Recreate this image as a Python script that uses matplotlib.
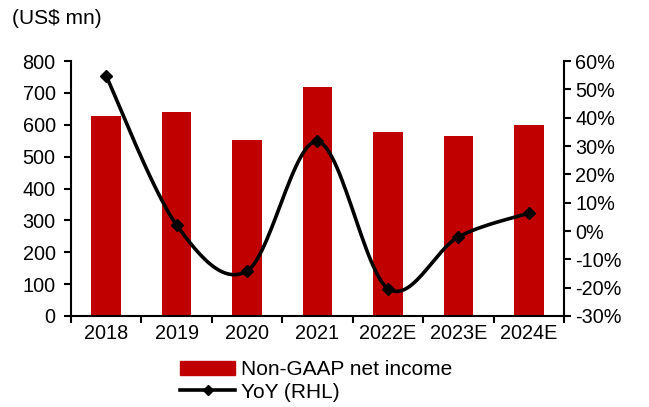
import numpy as np
import matplotlib
matplotlib.use("Agg")
import matplotlib.pyplot as plt
from matplotlib.lines import Line2D
from matplotlib.patches import Patch

plt.rcParams['font.family'] = ['Liberation Sans', 'DejaVu Sans']

years = ['2018', '2019', '2020', '2021', '2022E', '2023E', '2024E']
net_income = [627, 641, 552, 720, 576, 564, 599]
yoy = [54.7, 2.1, -14.1, 31.6, -20.3, -2.1, 6.3]

RED = '#C00000'
FS = 14.3    # tick labels
FS_TXT = 15  # title + legend


def smooth(xs, ys, n=30):
    # Excel style smoothed line: Catmull-Rom segments through the points
    xs = np.asarray(xs, float)
    ys = np.asarray(ys, float)
    px = np.concatenate([[xs[0]], xs, [xs[-1]]])
    py = np.concatenate([[ys[0]], ys, [ys[-1]]])
    outx, outy = [], []
    t = np.linspace(0, 1, n)
    for i in range(1, len(px) - 2):
        p0x, p1x, p2x, p3x = px[i - 1], px[i], px[i + 1], px[i + 2]
        p0y, p1y, p2y, p3y = py[i - 1], py[i], py[i + 1], py[i + 2]
        c1x, c1y = p1x + (p2x - p0x) / 6, p1y + (p2y - p0y) / 6
        c2x, c2y = p2x - (p3x - p1x) / 6, p2y - (p3y - p1y) / 6
        b = [(1 - t) ** 3, 3 * (1 - t) ** 2 * t, 3 * (1 - t) * t ** 2, t ** 3]
        outx.extend(b[0] * p1x + b[1] * c1x + b[2] * c2x + b[3] * p2x)
        outy.extend(b[0] * p1y + b[1] * c1y + b[2] * c2y + b[3] * p2y)
    return np.array(outx), np.array(outy)


fig = plt.figure(figsize=(6.49, 4.07), dpi=100)
ax = fig.add_axes([0.1094, 0.2236, 0.7596, 0.6264])
x = np.arange(len(years))
ax.bar(x, net_income, width=0.42, color=RED, zorder=2)
ax.set_xlim(-0.5, len(years) - 0.5)
ax.set_ylim(0, 800)
ax.set_yticks(np.arange(0, 801, 100))
ax.set_xticks(x)
ax.set_xticklabels(years)
ax.set_xticks(np.arange(-0.5, len(years), 1), minor=True)
ax.tick_params(axis='x', which='major', length=0, pad=6, labelsize=FS)
ax.tick_params(axis='x', which='minor', length=5, width=1.5, direction='out')
ax.tick_params(axis='y', length=5, width=1.5, labelsize=FS, pad=6)
for s in ['top', 'right']:
    ax.spines[s].set_visible(False)
for s in ['left', 'bottom']:
    ax.spines[s].set_linewidth(1.5)

ax2 = ax.twinx()
ax2.set_ylim(-30, 60)
ax2.set_yticks(np.arange(-30, 61, 10))
ax2.set_yticklabels([f'{v}%' for v in range(-30, 61, 10)])
ax2.tick_params(axis='y', length=5, width=1.5, labelsize=FS, pad=3)
for s in ['top', 'left', 'bottom']:
    ax2.spines[s].set_visible(False)
ax2.spines['right'].set_linewidth(1.5)

sx, sy = smooth(x, yoy)
ax2.plot(sx, sy, color='black', lw=2.6, zorder=3)
ax2.plot(x, yoy, linestyle='none', marker='D', color='black', markersize=6.5, zorder=4)

fig.text(0.018, 0.955, '(US$ mn)', fontsize=FS_TXT, va='center', ha='left')

handles = [Patch(color=RED),
           Line2D([0], [0], color='black', lw=2.6, marker='D', markersize=5)]
fig.legend(handles, ['Non-GAAP net income', 'YoY (RHL)'], loc='upper left',
           bbox_to_anchor=(0.262, 0.14), frameon=False, fontsize=FS_TXT,
           handlelength=2.6, handleheight=0.7, handletextpad=0.3,
           labelspacing=0.15, borderpad=0)

fig.savefig('out.png', dpi=100)
